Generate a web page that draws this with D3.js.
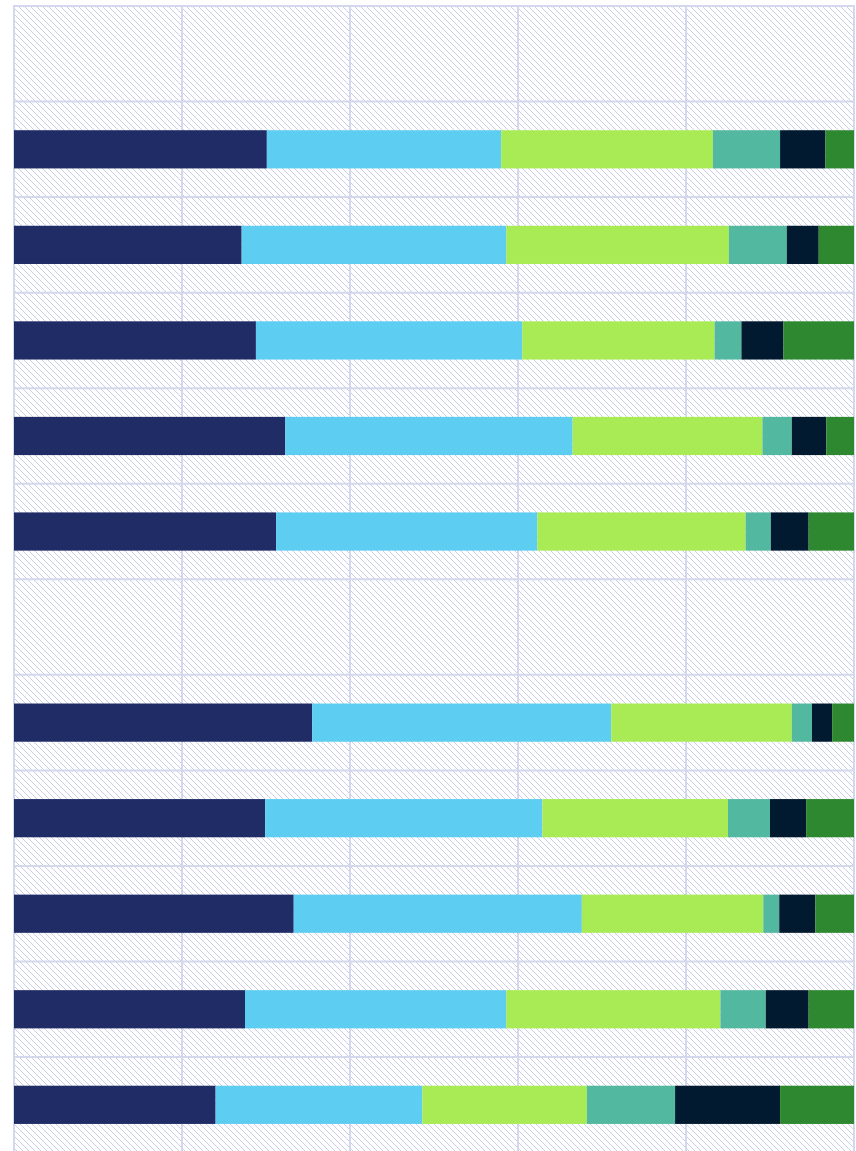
<!DOCTYPE html>
<html>
<head>
<meta charset="utf-8">
<script src="https://cdn.jsdelivr.net/npm/d3@7"></script>
<style>
  body { margin: 0; background: #fff; }
  svg { display: block; }
</style>
</head>
<body>
<svg id="chart"></svg>
<script>
// categories (rows 0 and 6 are empty header rows)
const categories = ["g1", "a1", "a2", "a3", "a4", "a5", "g2", "b1", "b2", "b3", "b4", "b5"];
const seriesKeys = ["s1", "s2", "s3", "s4", "s5", "s6"];
const seriesColors = ["#202c66", "#5ecdf2", "#a9eb55", "#53b8a0", "#021a2f", "#2d882f"];

// share of each row, in percent
const s1 = [0, 30.1, 27.1, 28.8, 32.3, 31.2, 0, 35.5, 29.9, 33.3, 27.5, 24.0];
const s2 = [0, 27.9, 31.5, 31.7, 34.2, 31.1, 0, 35.6, 33.0, 34.3, 31.1, 24.6];
const s3 = [0, 25.2, 26.5, 22.9, 22.6, 24.8, 0, 21.5, 22.1, 21.6, 25.5, 19.6];
const s4 = [0, 8.0, 6.9, 3.2, 3.5, 3.0, 0, 2.4, 5.0, 1.9, 5.4, 10.5];
const s5 = [0, 5.4, 3.8, 5.0, 4.1, 4.5, 0, 2.4, 4.3, 4.3, 5.1, 12.5];
const s6 = [0, 3.4, 4.2, 8.4, 3.3, 5.4, 0, 2.6, 5.7, 4.6, 5.4, 8.8];
const xTicks = [0, 20, 40, 60, 80, 100];

const width = 856, height = 1151;
const plotLeft = 14, plotRight = 854, plotTop = 6;
const plotBottom = plotTop + 95.55 * categories.length;

const rows = categories.map((c, i) => ({
  cat: c, s1: s1[i], s2: s2[i], s3: s3[i], s4: s4[i], s5: s5[i], s6: s6[i]
}));

const svg = d3.select("#chart").attr("width", width).attr("height", height);

// hatched background
const hatchSize = 6;
const pat = svg.append("defs").append("pattern")
  .attr("id", "hatch")
  .attr("patternUnits", "userSpaceOnUse")
  .attr("width", hatchSize).attr("height", hatchSize);
pat.append("rect").attr("width", hatchSize).attr("height", hatchSize).attr("fill", "#fff");
d3.range(hatchSize).forEach(i => {
  pat.append("rect").attr("x", i).attr("y", i).attr("width", 1).attr("height", 1).attr("fill", "#c9cdea");
});

const x = d3.scaleLinear().domain([0, 100]).range([plotLeft, plotRight]);
const y = d3.scaleBand().domain(categories).range([plotTop, plotBottom]).paddingInner(0.6).paddingOuter(0.3);

svg.append("rect")
  .attr("x", plotLeft).attr("y", plotTop)
  .attr("width", plotRight - plotLeft).attr("height", plotBottom - plotTop)
  .attr("fill", "url(#hatch)");

// grid
const gridColor = "#d4d8ec";
svg.append("g")
  .selectAll("line")
  .data(xTicks)
  .join("line")
  .attr("x1", d => x(d)).attr("x2", d => x(d))
  .attr("y1", plotTop).attr("y2", plotBottom)
  .attr("stroke", gridColor)
  .attr("stroke-width", 2);

const bandEdges = categories.map(c => y(c) - y.step() * y.paddingOuter());
svg.append("g")
  .selectAll("line")
  .data(bandEdges)
  .join("line")
  .attr("x1", plotLeft - 1).attr("x2", plotRight + 1)
  .attr("y1", d => d).attr("y2", d => d)
  .attr("stroke", gridColor)
  .attr("stroke-width", 2);

// stacked bars
const stacked = d3.stack().keys(seriesKeys)(rows);
const color = d3.scaleOrdinal().domain(seriesKeys).range(seriesColors);

svg.append("g")
  .selectAll("g")
  .data(stacked)
  .join("g")
  .attr("fill", d => color(d.key))
  .selectAll("rect")
  .data(d => d.filter(p => p[1] - p[0] > 0))
  .join("rect")
  .attr("x", d => x(d[0]))
  .attr("width", d => x(d[1]) - x(d[0]))
  .attr("y", d => y(d.data.cat))
  .attr("height", y.bandwidth());
</script>
</body>
</html>
